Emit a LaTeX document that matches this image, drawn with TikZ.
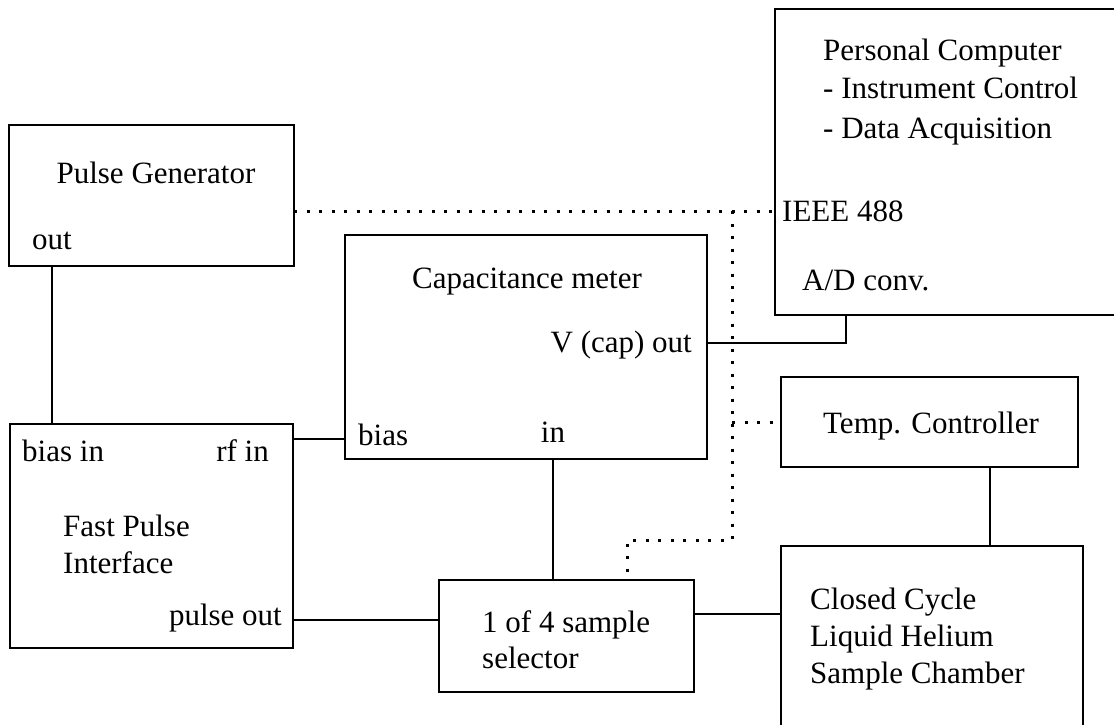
\documentclass[tikz,border=0pt]{standalone}
\usepackage{fontspec}
\setmainfont{Liberation Serif}
\begin{document}
\begin{tikzpicture}[x=1pt,y=-1pt,
  box/.style={draw, line width=2.4pt, rectangle, inner sep=0pt, outer sep=0pt},
  lbl/.style={inner sep=0pt, font=\fontsize{31}{37}\selectfont},
  wire/.style={line width=2.4pt},
  ctrl/.style={line width=3pt, dash pattern=on 3pt off 9.5pt}]
\useasboundingbox (0,0) rectangle (1114,725);
\fill[white] (0,0) rectangle (1114,725);
\clip (0,0) rectangle (1114,725);
% boxes
\node[box, minimum width=285pt, minimum height=141pt] (pg) at (151.5,195.5) {};
\node[box, minimum width=365pt, minimum height=306pt] (pc) at (957.5,162) {};
\node[box, minimum width=362pt, minimum height=224pt] (cm) at (526,347) {};
\node[box, minimum width=283pt, minimum height=224pt] (fpi) at (151.5,536) {};
\node[box, minimum width=297pt, minimum height=90pt] (tc) at (929.5,422) {};
\node[box, minimum width=255pt, minimum height=112pt] (sel) at (566.5,636) {};
\node[box, minimum width=302pt, minimum height=214pt] (cc) at (932,653) {};
% labels
\node[lbl, anchor=base] (tpg) at (156,183) {Pulse Generator};
\node[lbl, anchor=base west] (tpgo) at (32,249) {out};
\node[lbl, anchor=base west] (tpc1) at (823,60) {Personal Computer};
\node[lbl, anchor=base west] (tpc2) at (823,99) {- Instrument Control};
\node[lbl, anchor=base west] (tpc3) at (823,138) {- Data Acquisition};
\node[lbl, anchor=base west] (tpc4) at (782,221) {IEEE 488};
\node[lbl, anchor=base west] (tpc5) at (802,290) {A/D conv.};
\node[lbl, anchor=base] (tcm1) at (527,288) {Capacitance meter};
\node[lbl, anchor=base east] (tcm2) at (692,352) {V (cap) out};
\node[lbl, anchor=base west] (tcm3) at (358,445) {bias};
\node[lbl, anchor=base] (tcm4) at (553,442) {in};
\node[lbl, anchor=base west] (tf1) at (22,461) {bias in};
\node[lbl, anchor=base east] (tf2) at (269,461) {rf in};
\node[lbl, anchor=base west] (tf3) at (63,536) {Fast Pulse};
\node[lbl, anchor=base west] (tf4) at (63,573) {Interface};
\node[lbl, anchor=base east] (tf5) at (282,625) {pulse out};
\node[lbl, anchor=base] (ttc) at (931,433) {Temp. Controller};
\node[lbl, anchor=base west] (ts1) at (482,632) {1 of 4 sample};
\node[lbl, anchor=base west] (ts2) at (482,668) {selector};
\node[lbl, anchor=base west] (tcc1) at (810,609) {Closed Cycle};
\node[lbl, anchor=base west] (tcc2) at (810,646) {Liquid Helium};
\node[lbl, anchor=base west] (tcc3) at (810,683) {Sample Chamber};
% helper coordinates
\coordinate (cA) at (52,0);
\coordinate (cB) at (0,439);
\coordinate (cC) at (0,620);
\coordinate (cD) at (553,0);
\coordinate (cE) at (0,614);
\coordinate (cF) at (990,0);
\coordinate (cG) at (846,343);
\coordinate (cH) at (0,211);
\coordinate (cJ) at (732,211);
\coordinate (cK) at (627,540);
% solid connections
\draw[wire] (pg.south -| cA) -- (fpi.north -| cA);
\draw[wire] (fpi.east |- cB) -- (cm.west |- cB);
\draw[wire] (fpi.east |- cC) -- (sel.west |- cC);
\draw[wire] (cm.south -| cD) -- (sel.north -| cD);
\draw[wire] (sel.east |- cE) -- (cc.west |- cE);
\draw[wire] (tc.south -| cF) -- (cc.north -| cF);
\draw[wire] (cm.east |- cG) -| (pc.south -| cG);
% dotted control bus
\draw[ctrl] (pg.east |- cH) -- (pc.west |- cH);
\draw[ctrl] (cJ) |- (cK) -- (sel.north -| cK);
\draw[ctrl] (cJ |- tc.west) -- (tc.west);
\end{tikzpicture}
\end{document}
